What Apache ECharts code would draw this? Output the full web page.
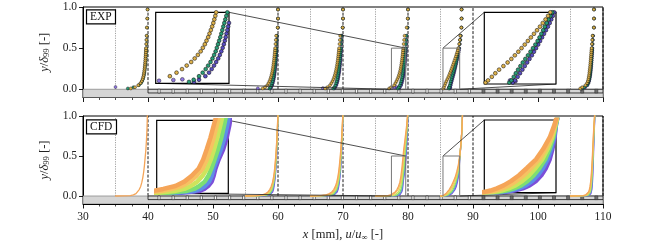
<!DOCTYPE html>
<html><head><meta charset="utf-8">
<script src="https://cdn.jsdelivr.net/npm/echarts@6/dist/echarts.min.js"></script>
<style>html,body{margin:0;padding:0;background:#fff}#c{width:670px;height:243px}</style>
</head><body><div id="c"></div>
<script>
// ---------------- data ----------------
const stations = [35, 55, 65, 75, 85, 105];      // x position of each profile (mm), u/u_inf = 0
const uScale = 5;                                 // mm per unit of u/u_inf
const xTickLabels = [30, 40, 50, 60, 70, 80, 90, 100, 110];
const yTickValues = [0, 0.5, 1];
const holeX = [41.70, 43.87, 46.04, 48.21, 50.38, 52.55, 54.72, 56.89, 59.06, 61.23, 63.40, 65.57, 67.74, 69.91, 72.08, 74.25, 76.42, 78.59, 80.76, 82.93, 85.10, 87.27, 89.44, 91.61, 93.78, 95.95, 98.12, 100.29, 102.46, 104.63, 106.80, 108.97];
const darkHoleFrom = 91;
const wallBand = [30, 110, -0.1, 0];
const wallStrip = [40, 110, -0.045, 0];
const insetAx = [77.45, 79.65], insetAy = [0, 0.5];   // zoom window on profile at 75 mm
const insetBx = [85.38, 87.95], insetBy = [0, 0.5];   // zoom window on profile at 85 mm

// EXP: wall-normal positions and u/u_inf for each station (order of `stations`)
const yE = [0.01,0.025,0.05,0.075,0.1,0.125,0.15,0.175,0.2,0.225,0.25,0.275,0.3,0.325,0.35,0.375,0.4,0.425,0.45,0.475,0.5,0.55,0.6,0.65,0.75,0.86,0.97];
const expYellow = [
 [0.47,0.6,0.7,0.77,0.81,0.835,0.853,0.867,0.878,0.887,0.895,0.902,0.908,0.913,0.918,0.922,0.926,0.93,0.934,0.937,0.94,0.946,0.952,0.958,0.965,0.975,0.985],
 [0.53,0.6,0.67,0.71,0.74,0.765,0.785,0.802,0.817,0.83,0.841,0.851,0.86,0.868,0.876,0.883,0.89,0.896,0.902,0.907,0.912,0.922,0.932,0.942,0.99,1.0,1.0],
 [0.45,0.52,0.6,0.645,0.68,0.707,0.73,0.75,0.768,0.783,0.796,0.808,0.819,0.829,0.838,0.846,0.854,0.861,0.868,0.874,0.88,0.892,0.903,0.914,0.99,1.0,1.0],
 [0.42,0.48,0.575,0.615,0.648,0.676,0.703,0.724,0.743,0.76,0.773,0.785,0.795,0.805,0.813,0.821,0.829,0.836,0.842,0.848,0.853,0.866,0.88,0.895,0.96,0.99,1.0],
 [0.085,0.103,0.13,0.155,0.182,0.213,0.243,0.27,0.295,0.32,0.343,0.366,0.388,0.41,0.432,0.454,0.475,0.495,0.515,0.533,0.549,0.575,0.595,0.61,0.64,0.645,0.645],
 [0.3,0.36,0.46,0.51,0.535,0.55,0.562,0.572,0.58,0.588,0.595,0.602,0.608,0.614,0.62,0.625,0.63,0.635,0.64,0.645,0.65,0.66,0.67,0.68,0.72,0.72,0.72]
];
const expGreen = [
 [0.38,0.55,0.72,0.785,0.822,0.846,0.864,0.877,0.888,0.897,0.905,0.911,0.917,0.922,0.926,0.93,0.934,0.938,0.941,0.944,0.947,0.953,0.958,0.963,0.97,0.98,0.99],
 [0.74,0.765,0.795,0.815,0.832,0.846,0.858,0.869,0.878,0.886,0.893,0.9,0.906,0.912,0.917,0.922,0.927,0.932,0.936,0.94,0.944,0.952,0.96,0.967,0.995,1.0,1.0],
 [0.7,0.73,0.765,0.787,0.805,0.82,0.833,0.845,0.855,0.864,0.872,0.879,0.886,0.892,0.898,0.904,0.909,0.914,0.919,0.924,0.929,0.938,0.946,0.954,0.99,1.0,1.0],
 [0.69,0.718,0.75,0.772,0.79,0.805,0.819,0.831,0.841,0.85,0.857,0.864,0.871,0.878,0.884,0.89,0.896,0.902,0.908,0.914,0.92,0.93,0.94,0.95,0.98,1.0,1.0],
 [0.255,0.27,0.287,0.302,0.318,0.335,0.352,0.37,0.389,0.407,0.425,0.442,0.458,0.472,0.485,0.498,0.51,0.523,0.536,0.55,0.563,0.585,0.605,0.62,0.645,0.65,0.65],
 [0.34,0.42,0.5,0.54,0.562,0.577,0.589,0.599,0.607,0.614,0.62,0.626,0.631,0.636,0.641,0.645,0.649,0.653,0.657,0.661,0.665,0.673,0.68,0.688,0.72,0.725,0.725]
];
const expViolet = [
 null,
 [0.76,0.79,0.822,0.842,0.858,0.871,0.882,0.892,0.9,0.907,0.914,0.92,0.925,0.93,0.935,0.939,0.943,0.947,0.951,0.954,0.957,0.963,0.969,0.974,1.0,1.0,1.0],
 [0.73,0.76,0.795,0.817,0.834,0.848,0.86,0.871,0.881,0.89,0.897,0.904,0.91,0.915,0.92,0.925,0.93,0.934,0.938,0.942,0.946,0.954,0.961,0.967,0.995,1.0,1.0],
 [0.72,0.75,0.788,0.81,0.826,0.84,0.853,0.865,0.875,0.884,0.892,0.899,0.905,0.91,0.915,0.92,0.925,0.93,0.934,0.938,0.942,0.95,0.957,0.963,0.99,1.0,1.0],
 [0.28,0.295,0.315,0.332,0.349,0.366,0.383,0.4,0.417,0.432,0.447,0.462,0.476,0.49,0.504,0.518,0.532,0.545,0.556,0.567,0.577,0.595,0.61,0.625,0.645,0.65,0.65],
 [0.36,0.45,0.52,0.555,0.575,0.589,0.6,0.61,0.618,0.625,0.631,0.637,0.642,0.647,0.651,0.655,0.659,0.663,0.667,0.67,0.674,0.681,0.688,0.695,0.725,0.725,0.725]
];
// near-wall purple points: [station, u/u_inf, y/delta99]
const expWall = [[35,0.0,0.028],[55,0.38,0.012],[65,0.38,0.015],[75,0.51,0.018],[75,0.596,0.023],[75,0.65,0.028],[85,0.26,0.025],[85,0.273,0.022],[85,0.30,0.02]];

// CFD: wall-normal positions and u/u_inf (6 cases, slow -> fast)
const yC = [0,0.004,0.015,0.03,0.05,0.08,0.12,0.17,0.23,0.3,0.38,0.47,0.58,0.7,0.85,1.0,1.12];
const cfdOrange = [
 [0,0.46,0.55,0.63,0.68,0.73,0.775,0.81,0.84,0.867,0.89,0.91,0.935,0.953,0.97,0.98,0.985],
 [0,0.33,0.52,0.62,0.69,0.745,0.79,0.83,0.86,0.885,0.905,0.925,0.945,0.962,0.98,0.995,1.0],
 [0,0.3,0.48,0.58,0.655,0.715,0.765,0.805,0.838,0.865,0.888,0.91,0.932,0.953,0.975,0.992,1.0],
 [0,0.38,0.46,0.53,0.605,0.66,0.705,0.748,0.775,0.797,0.82,0.842,0.868,0.905,0.95,0.985,1.0],
 [0,0.07,0.12,0.166,0.215,0.267,0.325,0.382,0.447,0.498,0.545,0.58,0.612,0.638,0.66,0.675,0.68],
 [0,0.39,0.47,0.52,0.555,0.58,0.6,0.617,0.632,0.645,0.657,0.67,0.683,0.697,0.715,0.74,0.75]
];
const cfdLightOrange = [
 null,
 [0,0.38,0.57,0.665,0.725,0.772,0.81,0.845,0.872,0.895,0.914,0.932,0.95,0.966,0.983,0.996,1.0],
 [0,0.35,0.53,0.625,0.695,0.748,0.79,0.826,0.855,0.879,0.9,0.92,0.94,0.958,0.978,0.993,1.0],
 [0,0.42,0.52,0.585,0.645,0.695,0.735,0.772,0.797,0.818,0.84,0.86,0.885,0.918,0.958,0.988,1.0],
 [0,0.1,0.155,0.205,0.255,0.305,0.36,0.412,0.47,0.515,0.555,0.584,0.613,0.639,0.661,0.675,0.68],
 [0,0.42,0.5,0.545,0.575,0.597,0.614,0.629,0.642,0.654,0.665,0.677,0.689,0.702,0.719,0.742,0.75]
];
const cfdYellowGreen = [
 null,
 [0,0.45,0.63,0.71,0.762,0.8,0.83,0.86,0.884,0.905,0.922,0.939,0.955,0.97,0.985,0.997,1.0],
 [0,0.42,0.6,0.68,0.735,0.78,0.815,0.846,0.872,0.893,0.911,0.929,0.947,0.964,0.982,0.995,1.0],
 [0,0.5,0.6,0.66,0.7,0.74,0.772,0.8,0.822,0.842,0.862,0.882,0.905,0.932,0.966,0.99,1.0],
 [0,0.14,0.2,0.25,0.3,0.348,0.397,0.444,0.492,0.53,0.563,0.587,0.614,0.639,0.661,0.675,0.68],
 [0,0.45,0.53,0.57,0.595,0.613,0.628,0.641,0.652,0.663,0.673,0.684,0.695,0.707,0.723,0.744,0.752]
];
const cfdGreen = [
 null,
 [0,0.5,0.67,0.745,0.79,0.822,0.848,0.872,0.894,0.913,0.93,0.945,0.959,0.973,0.987,0.998,1.0],
 [0,0.48,0.65,0.72,0.768,0.806,0.836,0.862,0.885,0.904,0.92,0.936,0.952,0.968,0.984,0.996,1.0],
 [0,0.56,0.67,0.72,0.752,0.785,0.808,0.826,0.845,0.866,0.887,0.905,0.925,0.947,0.974,0.993,1.0],
 [0,0.17,0.235,0.29,0.34,0.385,0.43,0.472,0.512,0.543,0.57,0.589,0.614,0.64,0.662,0.676,0.68],
 [0,0.48,0.555,0.59,0.612,0.628,0.641,0.652,0.662,0.672,0.681,0.69,0.7,0.712,0.727,0.746,0.753]
];
const cfdBlue = [
 null,
 [0,0.55,0.71,0.775,0.814,0.843,0.864,0.884,0.903,0.921,0.936,0.95,0.963,0.976,0.989,0.999,1.0],
 [0,0.53,0.69,0.755,0.795,0.828,0.853,0.875,0.895,0.913,0.928,0.942,0.957,0.971,0.986,0.997,1.0],
 [0,0.61,0.72,0.758,0.786,0.812,0.828,0.84,0.86,0.884,0.906,0.924,0.942,0.96,0.98,0.995,1.0],
 [0,0.2,0.265,0.322,0.372,0.417,0.46,0.497,0.53,0.555,0.576,0.59,0.615,0.64,0.662,0.676,0.68],
 [0,0.51,0.58,0.61,0.628,0.642,0.654,0.664,0.673,0.681,0.689,0.697,0.706,0.717,0.731,0.748,0.755]
];
const cfdPurple = [
 null,
 [0,0.6,0.74,0.8,0.835,0.86,0.878,0.895,0.912,0.928,0.942,0.955,0.967,0.978,0.99,1.0,1.0],
 [0,0.58,0.725,0.785,0.82,0.848,0.868,0.886,0.904,0.921,0.935,0.948,0.961,0.974,0.988,0.998,1.0],
 [0,0.64,0.75,0.782,0.806,0.828,0.84,0.851,0.87,0.898,0.92,0.937,0.953,0.968,0.985,0.997,1.0],
 [0,0.22,0.29,0.352,0.4,0.445,0.485,0.518,0.545,0.564,0.58,0.59,0.615,0.64,0.662,0.676,0.68],
 [0,0.54,0.6,0.628,0.644,0.656,0.666,0.675,0.683,0.69,0.697,0.704,0.712,0.722,0.735,0.75,0.757]
];

// ---------------- chart ----------------
const SERIF = '"Liberation Serif","DejaVu Serif",serif';
const TXT = '#222';
const chart = echarts.init(document.getElementById('c'), null, {renderer: 'canvas'});

const grids = [
  {left: 83, top: 7, width: 520, height: 90.5, show: true, borderColor: '#000', borderWidth: 1, backgroundColor: 'transparent'},
  {left: 83, top: 116, width: 520, height: 90, show: true, borderColor: '#000', borderWidth: 1, backgroundColor: 'transparent'},
  {left: 155.7, top: 12.3, width: 73.3, height: 71, show: true, backgroundColor: '#fff', borderColor: '#000', borderWidth: 1.2, z: 10},
  {left: 484.3, top: 12.3, width: 71.7, height: 71.7, show: true, backgroundColor: '#fff', borderColor: '#000', borderWidth: 1.2, z: 10},
  {left: 156.7, top: 120.3, width: 71.6, height: 73, show: true, backgroundColor: '#fff', borderColor: '#000', borderWidth: 1.2, z: 10},
  {left: 484.3, top: 120, width: 71.7, height: 72.7, show: true, backgroundColor: '#fff', borderColor: '#000', borderWidth: 1.2, z: 10}
];

const nameRich = {
  i: {fontFamily: SERIF, fontSize: 12.5, fontStyle: 'italic', color: TXT},
  s: {fontFamily: SERIF, fontSize: 8.5, color: TXT, verticalAlign: 'bottom', padding: [6, 0, 0, 0]}
};
function mainX(gi, labels) {
  return {
    type: 'value', gridIndex: gi, min: xTickLabels[0], max: xTickLabels[xTickLabels.length - 1], interval: 10,
    axisLine: {show: true, onZero: false, lineStyle: {color: '#000', width: 1}},
    axisTick: {show: true, inside: false, length: 4.5, lineStyle: {color: '#000', width: 0.9}},
    minorTick: {show: true, splitNumber: 4, length: 2.5, lineStyle: {color: '#000', width: 0.7}},
    splitLine: {show: false},
    axisLabel: {show: labels, fontFamily: SERIF, fontSize: 11.5, color: TXT, margin: 7},
    name: labels ? '{i|x} [mm], {i|u}/{i|u}{s|∞} [-]' : '',
    nameLocation: 'middle', nameGap: 23,
    nameTextStyle: {fontFamily: SERIF, fontSize: 12.5, color: TXT, rich: nameRich}
  };
}
function mainY(gi) {
  return {
    type: 'value', gridIndex: gi, min: -0.1, max: 1,
    axisLine: {show: true, onZero: false, lineStyle: {color: '#000', width: 1}},
    axisTick: {show: true, inside: false, length: 4, customValues: yTickValues, lineStyle: {color: '#000', width: 0.9}},
    splitLine: {show: false},
    axisLabel: {show: true, customValues: yTickValues, formatter: v => v.toFixed(1), fontFamily: SERIF, fontSize: 11.5, color: TXT, margin: 6},
    name: '{i|y}/{i|δ}{s|99} [-]', nameLocation: 'middle', nameGap: 20, nameRotate: 90,
    nameTextStyle: {fontFamily: SERIF, fontSize: 12.5, color: TXT, rich: nameRich}
  };
}
function insetAxis(gi, range) {
  return {type: 'value', gridIndex: gi, min: range[0], max: range[1], show: false, splitLine: {show: false}};
}

const xAxes = [mainX(0, false), mainX(1, true), insetAxis(2, insetAx), insetAxis(3, insetBx), insetAxis(4, insetAx), insetAxis(5, insetBx)];
const yAxes = [mainY(0), mainY(1), insetAxis(2, insetAy), insetAxis(3, insetBy), insetAxis(4, insetAy), insetAxis(5, insetBy)];

const series = [];

// wall geometry
function rectItem(api, x0, x1, y0, y1, style) {
  const a = api.coord([x0, y1]), b = api.coord([x1, y0]);
  return {type: 'rect', shape: {x: a[0], y: a[1], width: b[0] - a[0], height: b[1] - a[1]}, style: style};
}
[0, 1].forEach(gi => {
  series.push({
    type: 'custom', xAxisIndex: gi, yAxisIndex: gi, silent: true, z: 3, clip: true,
    data: [wallBand, wallStrip],
    renderItem: (params, api) => {
      const i = params.dataIndex;
      return rectItem(api, api.value(0), api.value(1), api.value(2), api.value(3),
        i === 0 ? {fill: '#d5d5d5', stroke: '#8c8c8c', lineWidth: 0.8} : {fill: '#d5d5d5', stroke: '#111', lineWidth: 0.8});
    }
  });
  series.push({
    type: 'custom', xAxisIndex: gi, yAxisIndex: gi, silent: true, z: 3, clip: true,
    data: holeX.map(x => [x, wallStrip[2], wallStrip[3]]),
    renderItem: (params, api) => {
      const x = api.value(0);
      const c = api.coord([x, api.value(2)]), d = api.coord([x, api.value(1)]);
      const dark = x > darkHoleFrom;
      const w = dark ? 3 : 2.2;
      return {type: 'rect', shape: {x: c[0] - w / 2, y: c[1], width: w, height: d[1] - c[1]},
        style: dark ? {fill: '#6e6e6e', stroke: '#333', lineWidth: 0.6} : {fill: '#fff', stroke: '#222', lineWidth: 0.6}};
    }
  });
  // reference lines: u = 0 (grey dotted) and u = 1 (black dashed)
  stations.forEach(x0 => {
    series.push({type: 'line', xAxisIndex: gi, yAxisIndex: gi, silent: true, z: 2, symbol: 'none',
      data: [[x0, 0], [x0, 1]], lineStyle: {color: '#8a8a8a', width: 0.8, type: [1.2, 1.2]}});
    series.push({type: 'line', xAxisIndex: gi, yAxisIndex: gi, silent: true, z: 2, symbol: 'none',
      data: [[x0 + uScale, 0], [x0 + uScale, 1]], lineStyle: {color: '#000', width: 0.9, type: [3, 1.6]}});
  });
  // zoom windows
  [[insetAx, insetAy], [insetBx, insetBy]].forEach(([rx, ry]) => {
    series.push({type: 'line', xAxisIndex: gi, yAxisIndex: gi, silent: true, z: 6, symbol: 'none',
      data: [[rx[0], ry[0]], [rx[0], ry[1]], [rx[1], ry[1]], [rx[1], ry[0]]],
      lineStyle: {color: '#777', width: 1}});
  });
});

// EXP scatter
const expSets = [
  {name: 'violet', arr: expViolet, color: '#5a4dc2'},
  {name: 'green', arr: expGreen, color: '#2a9d77'},
  {name: 'yellow', arr: expYellow, color: '#ddb14b'}
];
function expData(arr) {
  const d = [];
  arr.forEach((prof, i) => {
    if (!prof) return;
    prof.forEach((u, j) => { if (u != null) d.push([stations[i] + uScale * u, yE[j]]); });
  });
  return d;
}
const wallData = expWall.map(p => [p[0] + uScale * p[1], p[2]]);
[[0, 3, 0.4, 4], [2, 3.8, 0.5, 11], [3, 3.8, 0.5, 11]].forEach(([gi, size, bw, z]) => {
  series.push({type: 'scatter', xAxisIndex: gi, yAxisIndex: gi, silent: true, z: z, clip: true,
    symbol: 'circle', symbolSize: size, data: wallData,
    itemStyle: {color: '#7657d8', borderColor: '#000', borderWidth: bw}});
  expSets.forEach(s => {
    series.push({type: 'scatter', xAxisIndex: gi, yAxisIndex: gi, silent: true, z: z, clip: true,
      symbol: 'circle', symbolSize: size, data: expData(s.arr),
      itemStyle: {color: s.color, borderColor: '#000', borderWidth: bw, opacity: 1}});
  });
});

// CFD lines
const cfdSets = [
  {arr: cfdPurple, color: '#7c4fd9'},
  {arr: cfdBlue, color: '#5d8fe6'},
  {arr: cfdGreen, color: '#7ddf72'},
  {arr: cfdYellowGreen, color: '#cde45c'},
  {arr: cfdLightOrange, color: '#f6c262'},
  {arr: cfdOrange, color: '#f5a558'}
];
[[1, 1.3, 4, [0, 1, 2, 3, 4, 5]], [4, 4.5, 11, [3]], [5, 4.5, 11, [4]]].forEach(([gi, lw, z, idx]) => {
  cfdSets.forEach(s => {
    idx.forEach(i => {
      const prof = s.arr[i];
      if (!prof) return;
      series.push({type: 'line', xAxisIndex: gi, yAxisIndex: gi, silent: true, z: z, clip: true, symbol: 'none',
        data: prof.map((u, j) => [stations[i] + uScale * u, yC[j]]),
        lineStyle: {color: s.color, width: lw, cap: 'round', join: 'round'}});
    });
  });
});

const labelBox = (text, top) => ({
  text: text, left: 86, top: top, padding: [2, 4, 1, 4], borderColor: '#000', borderWidth: 1.2, backgroundColor: '#fff',
  textStyle: {fontFamily: SERIF, fontSize: 11.5, fontWeight: 'normal', color: '#111', lineHeight: 12}
});

chart.setOption({
  animation: false,
  backgroundColor: '#fff',
  title: [labelBox('EXP', 9.3), labelBox('CFD', 119.3)],
  grid: grids,
  xAxis: xAxes,
  yAxis: yAxes,
  series: series
});

// connector lines between zoom windows and insets
function px(gi, pt) { return chart.convertToPixel({xAxisIndex: gi, yAxisIndex: gi}, pt); }
const links = [
  [0, 2, [insetAx[1], insetAy[1]]], [0, 2, [insetAx[0], insetAy[0]]],
  [0, 3, [insetBx[0], insetBy[1]]], [0, 3, [insetBx[1], insetBy[0]]],
  [1, 4, [insetAx[1], insetAy[1]]], [1, 4, [insetAx[0], insetAy[0]]],
  [1, 5, [insetBx[0], insetBy[1]]], [1, 5, [insetBx[1], insetBy[0]]]
];
const els = links.map(([gm, gi, pt]) => {
  const a = px(gm, pt), b = px(gi, pt);
  return {type: 'line', z: 5, silent: true, shape: {x1: a[0], y1: a[1], x2: b[0], y2: b[1]},
    style: {stroke: '#222', lineWidth: 0.8}};
});
chart.setOption({graphic: {elements: els}});
</script>
</body></html>
